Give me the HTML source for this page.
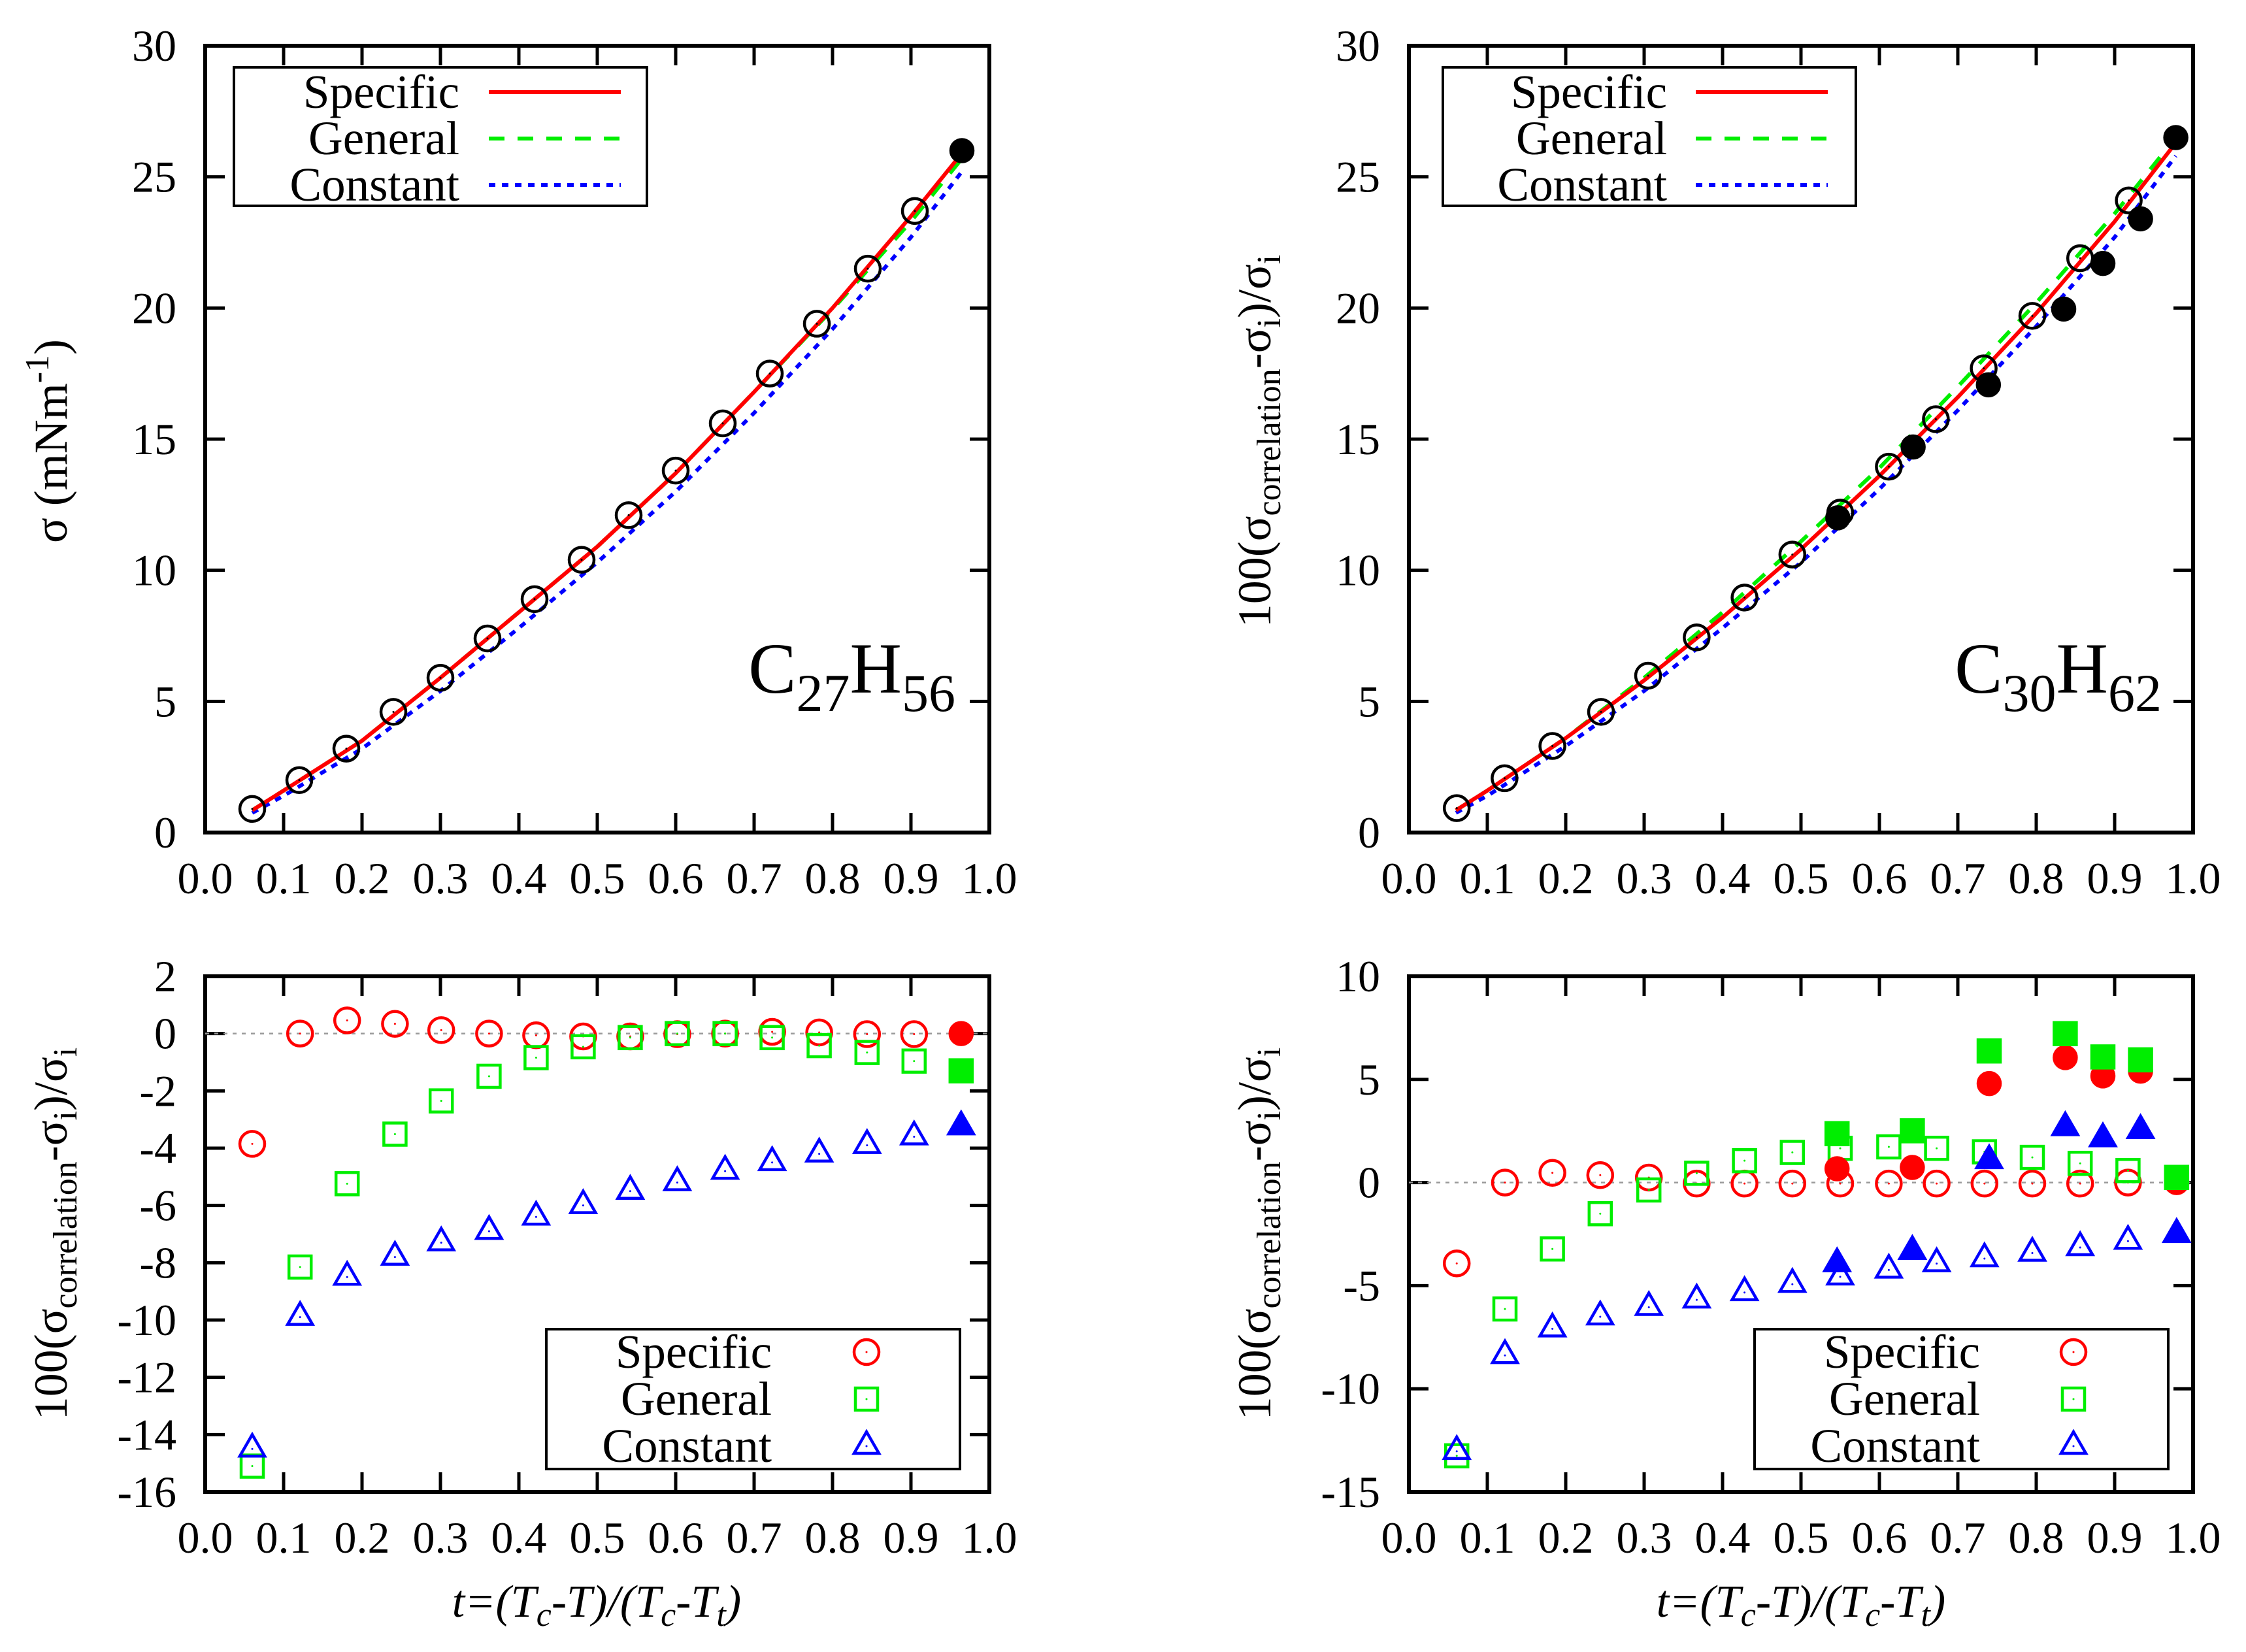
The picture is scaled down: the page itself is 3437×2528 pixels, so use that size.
<!DOCTYPE html>
<html><head><meta charset="utf-8"><style>
html,body{margin:0;padding:0;background:#fff;}
svg{display:block;}
text{font-family:"Liberation Serif","DejaVu Serif",serif;fill:#000;}
</style></head><body>
<svg id="chart" xmlns="http://www.w3.org/2000/svg" width="3437" height="2528" viewBox="0 0 3437 2528"></svg>
<script>
// ---------- DATA ----------
// Top-left (C27H56)
const tlPointsT = [0.06,0.12,0.18,0.24,0.30,0.36,0.42,0.48,0.54,0.60,0.66,0.72,0.78,0.845,0.905];
const tlPointsY = [0.9,2.0,3.2,4.6,5.9,7.4,8.9,10.4,12.1,13.8,15.6,17.5,19.4,21.5,23.7];
const tlFilledT = [0.965];
const tlFilledY = [26.0];
const tlCurveT = [0.06,0.1,0.2,0.3,0.4,0.5,0.6,0.7,0.8,0.9,0.965];
const tlSpecific = [0.85,1.6,3.5,5.9,8.4,10.9,13.7,16.8,20.0,23.5,25.9];
const tlGeneral  = [0.85,1.6,3.5,5.9,8.4,10.9,13.7,16.8,19.95,23.3,25.7];
const tlConstant = [0.75,1.4,3.2,5.4,7.8,10.3,13.0,16.0,19.2,22.7,25.2];
// Top-right (C30H62)
const trPointsT = [0.061,0.122,0.183,0.245,0.305,0.367,0.428,0.489,0.55,0.612,0.672,0.733,0.795,0.856,0.918];
const trPointsY = [0.93,2.07,3.3,4.6,5.98,7.44,8.96,10.6,12.2,13.95,15.76,17.7,19.7,21.9,24.1];
const trFilledT = [0.547,0.643,0.739,0.835,0.885,0.933,0.978];
const trFilledY = [12.0,14.7,17.07,19.96,21.7,23.4,26.5];
const trCurveT = [0.06,0.1,0.2,0.3,0.4,0.5,0.6,0.7,0.8,0.9,0.978];
const trSpecific = [0.85,1.6,3.6,5.8,8.2,10.8,13.6,16.6,19.8,23.3,26.3];
const trGeneral  = [0.85,1.6,3.6,5.9,8.4,11.1,13.9,17.0,20.2,23.6,26.5];
const trConstant = [0.75,1.4,3.3,5.4,7.8,10.3,13.1,16.1,19.3,22.7,25.8];
// Bottom-left deviations
const blT = [0.06,0.121,0.181,0.242,0.301,0.362,0.422,0.482,0.542,0.602,0.663,0.723,0.783,0.844,0.904];
const blSpecific = [-3.85,0,0.46,0.34,0.12,0,-0.06,-0.1,-0.1,-0.02,0,0.06,0.04,-0.02,-0.02];
const blGeneral  = [-15.1,-8.15,-5.24,-3.51,-2.35,-1.49,-0.84,-0.46,-0.14,0,0,-0.14,-0.42,-0.66,-0.96];
const blConstant = [-14.5,-9.9,-8.5,-7.8,-7.3,-6.9,-6.4,-6.0,-5.5,-5.2,-4.8,-4.5,-4.2,-3.9,-3.6];
const blFilledT = [0.964];
const blFilledSpecific = [0];
const blFilledGeneral = [-1.30];
const blFilledConstant = [-3.25];
// Bottom-right deviations
const brT = [0.061,0.1225,0.183,0.244,0.306,0.367,0.428,0.489,0.55,0.612,0.673,0.734,0.795,0.856,0.917];
const brSpecific = [-3.92,0,0.47,0.36,0.24,-0.05,-0.05,-0.05,-0.05,-0.05,-0.05,-0.05,-0.05,-0.05,0];
const brGeneral  = [-13.25,-6.13,-3.22,-1.51,-0.36,0.45,1.06,1.46,1.66,1.73,1.66,1.49,1.22,0.93,0.58];
const brConstant = [-13.03,-8.38,-7.09,-6.51,-6.05,-5.69,-5.33,-4.93,-4.57,-4.24,-3.93,-3.69,-3.42,-3.15,-2.84];
const brFilledT = [0.546,0.642,0.74,0.837,0.885,0.933,0.979];
const brFilledSpecific = [0.67,0.73,4.8,6.06,5.17,5.4,0];
const brFilledGeneral  = [2.37,2.51,6.38,7.22,6.09,5.95,0.25];
const brFilledConstant = [-3.93,-3.33,1.07,2.67,2.13,2.53,-2.51];
// Ticks
const xTicks = [0,0.1,0.2,0.3,0.4,0.5,0.6,0.7,0.8,0.9,1.0];
const xTickLabels = ["0.0","0.1","0.2","0.3","0.4","0.5","0.6","0.7","0.8","0.9","1.0"];
const topYTicks = [0,5,10,15,20,25,30];
const blYTicks = [-16,-14,-12,-10,-8,-6,-4,-2,0,2];
const brYTicks = [-15,-10,-5,0,5,10];
const legendNames = ["Specific","General","Constant"];

// ---------- DRAWING ----------
const NS = "http://www.w3.org/2000/svg";
const svg = document.getElementById("chart");
function mk(tag, attrs, parent){
  const e = document.createElementNS(NS, tag);
  for (const k in attrs) e.setAttribute(k, attrs[k]);
  (parent||svg).appendChild(e);
  return e;
}
const RED="#ff0000", GREEN="#00ee00", BLUE="#0000ff";

function makePanel(name, x0, x1, y0, y1, ymin, ymax, yTicks){
  const g = mk("g", {});
  
  
  const sx = v => x0 + (v - 0) * (x1 - x0);
  const sy = v => y1 - (v - ymin) / (ymax - ymin) * (y1 - y0);
  xTicks.forEach((t, i) => {
    const X = sx(t);
    mk("line", {x1:X, y1:y1, x2:X, y2:y1-30, stroke:"#000","stroke-width":5}, g);
    mk("line", {x1:X, y1:y0, x2:X, y2:y0+30, stroke:"#000","stroke-width":5}, g);
    const lb = mk("text", {x:X, y:y1+93, "font-size":68, "text-anchor":"middle"}, g);
    lb.textContent = xTickLabels[i];
    
    
  });
  yTicks.forEach(v => {
    const Y = sy(v);
    mk("line", {x1:x0, y1:Y, x2:x0+30, y2:Y, stroke:"#000","stroke-width":5}, g);
    mk("line", {x1:x1, y1:Y, x2:x1-30, y2:Y, stroke:"#000","stroke-width":5}, g);
    const lb = mk("text", {x:x0-44, y:Y+23, "font-size":68, "text-anchor":"end"}, g);
    lb.textContent = String(v);
    
    
  });
  const frame = mk("rect", {x:x0, y:y0, width:x1-x0, height:y1-y0, fill:"none", stroke:"#000", "stroke-width":6}, g);
  
  
  return {g, sx, sy, x0, x1, y0, y1};
}

function curve(p, ts, ys, color, dash, name){
  const d = ts.map((t,i)=> (i?"L":"M") + p.sx(t).toFixed(1) + "," + p.sy(ys[i]).toFixed(1)).join(" ");
  const e = mk("path", {d, fill:"none", stroke:color, "stroke-width":6, "stroke-dasharray":dash, "stroke-linejoin":"round"}, p.g);
  
  
}
function marker(parent, kind, X, Y, color, filled, name){
  let e;
  const fill = filled ? color : "none";
  if (kind === "circle") e = mk("circle", {cx:X, cy:Y, r:filled?17:19, fill, stroke:color, "stroke-width":4.5}, parent);
  else if (kind === "square") e = mk("rect", {x:X-17, y:Y-17, width:34, height:34, fill, stroke:color, "stroke-width":4.5}, parent);
  else e = mk("polygon", {points:`${X},${Y-22} ${X-19},${Y+11} ${X+19},${Y+11}`, fill, stroke:color, "stroke-width":4.5}, parent);
  
  
  if (!filled) mk("circle", {cx:X, cy:Y, r:1.5, fill:color}, parent);
}
function points(p, kind, ts, ys, color, filled, name){
  ts.forEach((t,i)=> marker(p.g, kind, p.sx(t), p.sy(ys[i]), color, filled, name));
}

function lineLegend(p, bx, by, textEnd, s0, s1){
  const lg = mk("g", {}, p.g);
  
  
  mk("rect", {x:bx, y:by, width:632, height:212, fill:"#fff", stroke:"#000", "stroke-width":4}, lg);
  const cols=[RED,GREEN,BLUE], dashes=["none","24,20","10,10"];
  legendNames.forEach((n,i)=>{
    const cy = by + 38 + i*71;
    const t = mk("text", {x:textEnd, y:cy+24, "font-size":73, "text-anchor":"end"}, lg);
    t.textContent = n;
    
    
    mk("line", {x1:s0, y1:cy, x2:s1, y2:cy, stroke:cols[i], "stroke-width":6, "stroke-dasharray":dashes[i]}, lg);
  });
}
function markerLegend(p, bx, by, textEnd, mx){
  const lg = mk("g", {}, p.g);
  
  
  mk("rect", {x:bx, y:by, width:633, height:214, fill:"#fff", stroke:"#000", "stroke-width":4}, lg);
  const cols=[RED,GREEN,BLUE], kinds=["circle","square","triangle"];
  legendNames.forEach((n,i)=>{
    const cy = by + 35 + i*72;
    const t = mk("text", {x:textEnd, y:cy+24, "font-size":73, "text-anchor":"end"}, lg);
    t.textContent = n;
    
    
    marker(lg, kinds[i], mx, cy, cols[i], false, 'legend-marker');
  });
}
function zeroLine(p){
  const e = mk("line", {x1:p.x0, y1:p.sy(0), x2:p.x1, y2:p.sy(0), stroke:"#999", "stroke-width":2.5, "stroke-dasharray":"6,8"}, p.g);
  
  
}
function formula(p, X, Y, a, b){
  const t = mk("text", {x:X, y:Y, "font-size":110, "text-anchor":"end"}, p.g);
  
  
  t.innerHTML = `C<tspan font-size="82" dy="28">${a}</tspan><tspan font-size="110" dy="-28">H</tspan><tspan font-size="82" dy="28">${b}</tspan>`;
}

// Top-left
const TL = makePanel("top-left-panel", 314, 1514, 70, 1274, 0, 30, topYTicks);
curve(TL, tlCurveT, tlConstant, BLUE, "10,10", "constant-curve");
curve(TL, tlCurveT, tlGeneral, GREEN, "24,20", "general-curve");
curve(TL, tlCurveT, tlSpecific, RED, "none", "specific-curve");
points(TL, "circle", tlPointsT, tlPointsY, "#000", false, "data-point");
points(TL, "circle", tlFilledT, tlFilledY, "#000", true, "filled-data-point");
lineLegend(TL, 358, 103, 703, 748, 950);
formula(TL, 1462, 1060, "27", "56");

// Top-right
const TR = makePanel("top-right-panel", 2156, 3356, 70, 1274, 0, 30, topYTicks);
curve(TR, trCurveT, trConstant, BLUE, "10,10", "constant-curve");
curve(TR, trCurveT, trGeneral, GREEN, "24,20", "general-curve");
curve(TR, trCurveT, trSpecific, RED, "none", "specific-curve");
points(TR, "circle", trPointsT, trPointsY, "#000", false, "data-point");
points(TR, "circle", trFilledT, trFilledY, "#000", true, "filled-data-point");
lineLegend(TR, 2208, 103, 2551, 2595, 2797);
formula(TR, 3308, 1060, "30", "62");

// Bottom-left
const BL = makePanel("bottom-left-panel", 314, 1514, 1494, 2283, -16, 2, blYTicks);
zeroLine(BL);
points(BL, "circle", blT, blSpecific, RED, false, "specific-point");
points(BL, "square", blT, blGeneral, GREEN, false, "general-point");
points(BL, "triangle", blT, blConstant, BLUE, false, "constant-point");
points(BL, "circle", blFilledT, blFilledSpecific, RED, true, "specific-filled-point");
points(BL, "square", blFilledT, blFilledGeneral, GREEN, true, "general-filled-point");
points(BL, "triangle", blFilledT, blFilledConstant, BLUE, true, "constant-filled-point");
markerLegend(BL, 836, 2034, 1181, 1326);

// Bottom-right
const BR = makePanel("bottom-right-panel", 2156, 3356, 1494, 2283, -15, 10, brYTicks);
zeroLine(BR);
points(BR, "circle", brT, brSpecific, RED, false, "specific-point");
points(BR, "square", brT, brGeneral, GREEN, false, "general-point");
points(BR, "triangle", brT, brConstant, BLUE, false, "constant-point");
points(BR, "circle", brFilledT, brFilledSpecific, RED, true, "specific-filled-point");
points(BR, "square", brFilledT, brFilledGeneral, GREEN, true, "general-filled-point");
points(BR, "triangle", brFilledT, brFilledConstant, BLUE, true, "constant-filled-point");
markerLegend(BR, 2685, 2034, 3030, 3173);

// Axis titles
function yTitle(cx, cy, html, name){
  const t = mk("text", {x:0, y:0, "font-size":72, "text-anchor":"middle", transform:`translate(${cx},${cy}) rotate(-90)`});
  
  
  t.innerHTML = html;
}
const devTitle = `100(σ<tspan font-size="52" dy="15">correlation</tspan><tspan dy="-15">-σ</tspan><tspan font-size="52" dy="15">i</tspan><tspan dy="-15">)/σ</tspan><tspan font-size="52" dy="15">i</tspan>`;
yTitle(102, 675, `σ (mNm<tspan font-size="52" dy="-28">-1</tspan><tspan dy="28">)</tspan>`, "y-axis-title");
yTitle(102, 1888, devTitle, "y-axis-title");
yTitle(1944, 675, devTitle, "y-axis-title");
yTitle(1944, 1888, devTitle, "y-axis-title");
function xTitle(cx, name){
  const t = mk("text", {x:cx, y:2474, "font-size":70, "text-anchor":"middle", "font-style":"italic"});
  
  
  t.innerHTML = `t=(T<tspan font-size="52" dy="14">c</tspan><tspan dy="-14">-T)/(T</tspan><tspan font-size="52" dy="14">c</tspan><tspan dy="-14">-T</tspan><tspan font-size="52" dy="14">t</tspan><tspan dy="-14">)</tspan>`;
}
xTitle(913, "x-axis-title");
xTitle(2756, "x-axis-title");
</script>
</body></html>
